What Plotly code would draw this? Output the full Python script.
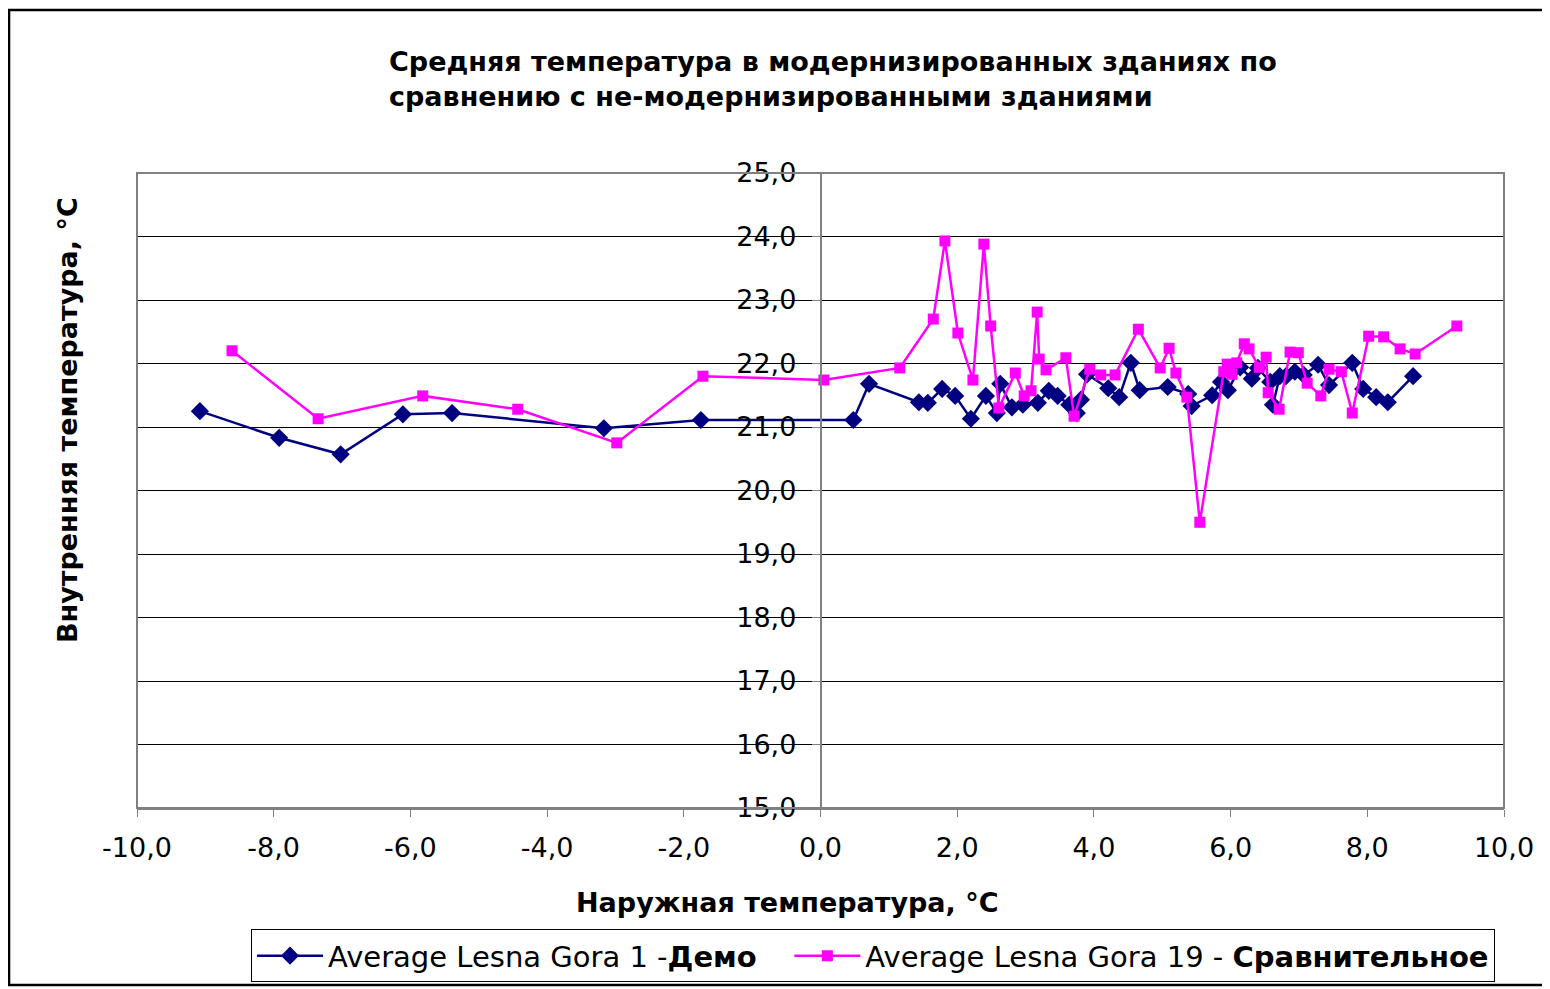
import plotly.graph_objects as go

# Series 1: Average Lesna Gora 1 - Демо (outside temp, inside temp)
demo_x = [-9.08, -7.92, -7.02, -6.11, -5.39, -3.17, -1.75, 0.48, 0.71, 1.44, 1.57, 1.78, 1.97,
          2.20, 2.42, 2.58, 2.63, 2.80, 2.96, 3.18, 3.34, 3.47, 3.64, 3.75, 3.81, 3.90, 4.21,
          4.37, 4.54, 4.67, 5.08, 5.38, 5.43, 5.73, 5.86, 5.96, 6.14, 6.31, 6.40, 6.58, 6.62,
          6.72, 6.81, 6.94, 7.07, 7.28, 7.44, 7.78, 7.94, 8.13, 8.30, 8.67]
demo_y = [21.25, 20.83, 20.57, 21.20, 21.22, 20.98, 21.11, 21.11, 21.68, 21.39, 21.38, 21.60, 21.49,
          21.13, 21.49, 21.22, 21.68, 21.31, 21.35, 21.38, 21.57, 21.49, 21.35, 21.22, 21.43, 21.83, 21.61,
          21.47, 22.01, 21.58, 21.63, 21.52, 21.33, 21.50, 21.71, 21.58, 21.94, 21.76, 21.93, 21.71, 21.35,
          21.80, 21.80, 21.87, 21.82, 21.98, 21.66, 22.01, 21.60, 21.47, 21.39, 21.80]

# Series 2: Average Lesna Gora 19 - Сравнительное
comp_x = [-8.61, -7.35, -5.82, -4.43, -2.98, -1.72, 0.05, 1.16, 1.65, 1.82, 2.01, 2.23, 2.39,
          2.49, 2.61, 2.85, 2.98, 3.08, 3.17, 3.20, 3.30, 3.59, 3.71, 3.94, 4.10, 4.31, 4.65,
          4.97, 5.10, 5.20, 5.36, 5.55, 5.90, 5.95, 6.02, 6.09, 6.20, 6.27, 6.42, 6.52, 6.55,
          6.71, 6.87, 6.99, 7.12, 7.32, 7.44, 7.62, 7.78, 8.02, 8.24, 8.48, 8.70, 9.31]
comp_y = [22.20, 21.13, 21.49, 21.28, 20.75, 21.80, 21.74, 21.93, 22.70, 23.93, 22.48, 21.74, 23.88,
          22.59, 21.30, 21.85, 21.49, 21.57, 22.81, 22.07, 21.90, 22.09, 21.17, 21.91, 21.82, 21.82, 22.54,
          21.93, 22.24, 21.85, 21.47, 19.50, 21.87, 21.99, 21.83, 22.01, 22.31, 22.23, 21.94, 22.10, 21.54,
          21.28, 22.18, 22.17, 21.69, 21.49, 21.91, 21.87, 21.22, 22.43, 22.42, 22.23, 22.15, 22.59]

x_ticks = [-10, -8, -6, -4, -2, 0, 2, 4, 6, 8, 10]
x_tick_labels = ["-10,0", "-8,0", "-6,0", "-4,0", "-2,0", "0,0", "2,0", "4,0", "6,0", "8,0", "10,0"]
y_ticks = [15, 16, 17, 18, 19, 20, 21, 22, 23, 24, 25]
y_tick_labels = ["15,0", "16,0", "17,0", "18,0", "19,0", "20,0", "21,0", "22,0", "23,0", "24,0", "25,0"]

title_text = "Средняя температура в модернизированных зданиях по<br>сравнению с не-модернизированными зданиями"
x_title = "Наружная температура, °C"
y_title = "Внутренняя температура, °C"
name_demo = "Average Lesna Gora 1 -<b>Демо</b>&nbsp;&nbsp;&nbsp;"
name_comp = "Average Lesna Gora 19 - <b>Сравнительное</b>"

FONT = "'DejaVu Sans', Arial, sans-serif"

fig = go.Figure()
fig.add_trace(go.Scatter(x=demo_x, y=demo_y, mode="lines+markers", name=name_demo,
                         line=dict(color="#000080", width=2.5),
                         marker=dict(symbol="diamond", size=14, color="#000080")))
fig.add_trace(go.Scatter(x=comp_x, y=comp_y, mode="lines+markers", name=name_comp,
                         line=dict(color="#FF00FF", width=2.5),
                         marker=dict(symbol="square", size=11, color="#FF00FF")))

fig.update_layout(
    width=1550, height=989,
    margin=dict(l=129, r=54, t=165, b=189, autoexpand=False),
    paper_bgcolor="white", plot_bgcolor="white",
    font=dict(family=FONT, size=26, color="black"),
    showlegend=True,
    legend=dict(orientation="h", x=0.0834, y=-0.191, xanchor="left", yanchor="top",
                bordercolor="black", borderwidth=1, font=dict(size=29),
                itemwidth=66),
    xaxis=dict(range=[-10, 10], tickvals=x_ticks, ticktext=x_tick_labels,
               ticks="outside", ticklen=7, tickcolor="#808080", tickwidth=1,
               ticklabelstandoff=8,
               showline=True, linecolor="#808080", linewidth=2,
               showgrid=False, zeroline=False, tickfont=dict(size=27)),
    yaxis=dict(range=[15, 25], tickvals=y_ticks, ticktext=y_tick_labels,
               anchor="free", position=0.5,
               ticks="outside", ticklen=8, tickcolor="#808080", tickwidth=1,
               ticklabelstandoff=10,
               showline=True, linecolor="#808080", linewidth=1.5,
               showgrid=True, gridcolor="black", gridwidth=1,
               zeroline=False, tickfont=dict(size=27)),
    shapes=[
        dict(type="rect", xref="paper", yref="paper", x0=0, x1=1, y0=0, y1=1,
             line=dict(color="#808080", width=2), layer="above"),
        dict(type="rect", xref="paper", yref="paper", x0=-0.0936, x1=1.05, y0=-0.2787, y1=1.2567,
             line=dict(color="black", width=2.5)),
    ],
    annotations=[
        dict(text="<b>" + title_text + "</b>", xref="paper", yref="paper",
             x=0.1829, y=1.2024, xanchor="left", yanchor="top", align="left",
             showarrow=False, font=dict(size=27)),
        dict(text="<b>" + x_title + "</b>", xref="paper", yref="paper",
             x=0.4762, y=-0.1496, xanchor="center", yanchor="middle",
             showarrow=False, font=dict(size=27)),
        dict(text="<b>" + y_title + "</b>", xref="paper", yref="paper",
             x=-0.0512, y=0.611, xanchor="center", yanchor="middle", textangle=-90,
             showarrow=False, font=dict(size=27)),
    ],
)

fig.write_html("out.html")
